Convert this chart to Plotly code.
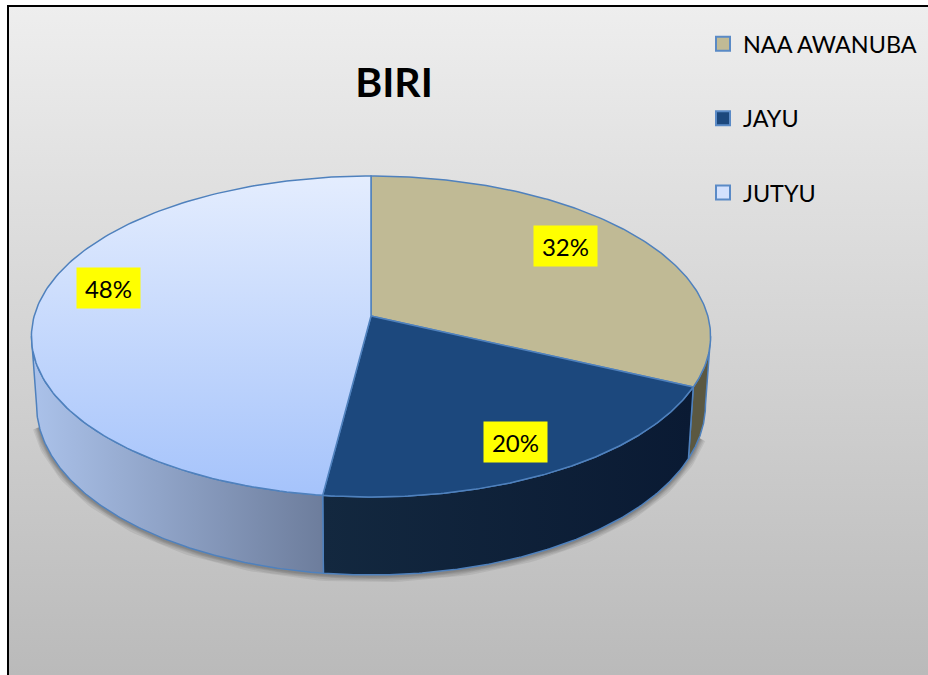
import numpy as np
import plotly.graph_objects as go

categories = ["NAA AWANUBA", "JAYU", "JUTYU"]
values = [32, 20, 48]
title_text = "BIRI"

W, H = 928, 675
CX, R, APEX_Y = 371.0, 336.8, 316.0
K, A = 0.1277, -117.5
EDGE = "#4f81bd"


def top(theta, r=1.0):
    s, c = np.sin(theta) * r, np.cos(theta) * r
    d = 1 + K * c
    return CX + R * s / d, (A * c + APEX_Y) / d


def bottom(theta):
    x, y = top(theta)
    c = np.cos(theta)
    return CX + (x - CX) * 0.985, y + 67 - 11 * c


def arc(a, b, n=160):
    return np.linspace(a, b, n)


fractions = np.array(values) / sum(values)
edges = np.concatenate([[0], np.cumsum(fractions)]) * 2 * np.pi
fig = go.Figure()

# background panel
fig.add_trace(go.Scatter(
    x=[8, W, W, 8, 8], y=[6, 6, H, H, 6], mode="lines", line=dict(width=0), fill="toself",
    fillgradient=dict(type="vertical", start=6, stop=H,
                      colorscale=[[0, "#eeeeee"], [1, "#bababa"]]),
    hoverinfo="skip", showlegend=False))
fig.add_trace(go.Scatter(x=[8, 8, W], y=[H, 6, 6], mode="lines",
                         line=dict(color="#000000", width=2), hoverinfo="skip", showlegend=False))

# soft shadow under the drum
t = arc(np.pi * 0.6, np.pi * 1.42)
bx, by = bottom(t)
for w in (13, 10, 7, 5, 3):
    fig.add_trace(go.Scatter(x=bx, y=by + 1, mode="lines",
                             line=dict(color="rgba(0,0,0,0.07)", width=w),
                             hoverinfo="skip", showlegend=False))

# walls
wall_styles = [
    ["#5b5841", "#5b5841"],
    ["#13283f", "#0a1a33"],
    ["#abc2ea", "#6d7d9c"],
]
limits = [(np.pi * 0.54, edges[1]), (edges[1], edges[2]), (edges[2], np.pi * 1.46)]
for (a, b), st in zip(limits, wall_styles):
    t = arc(a, b)
    tx, ty = top(t)
    bx, by = bottom(t)
    fig.add_trace(go.Scatter(
        x=np.r_[tx, bx[::-1], tx[0]], y=np.r_[ty, by[::-1], ty[0]],
        mode="lines", line=dict(color=EDGE, width=1.5), fill="toself",
        fillgradient=dict(type="horizontal", colorscale=[[0, st[0]], [1, st[1]]]),
        hoverinfo="skip", showlegend=False))

# top faces
faces = [
    dict(fillcolor="#c0ba95"),
    dict(fillcolor="#1c487d"),
    dict(fillgradient=dict(type="vertical", start=176, stop=497,
                           colorscale=[[0, "#e4edfe"], [1, "#a5c3fb"]])),
]
for i, name in enumerate(categories):
    t = arc(edges[i], edges[i + 1])
    x, y = top(t)
    fig.add_trace(go.Scatter(
        x=np.r_[CX, x, CX], y=np.r_[APEX_Y, y, APEX_Y], mode="lines", fill="toself",
        line=dict(color=EDGE, width=1.5), name=name, hoverinfo="skip", showlegend=False, **faces[i]))

# legend entries
swatches = ["#c0ba95", "#1c487d", "#d3e1fd"]
for i, name in enumerate(categories):
    fig.add_trace(go.Scatter(
        x=[None], y=[None], mode="markers", name=name, legendgroup=name,
        marker=dict(symbol="square", size=14, color=swatches[i], line=dict(color="#5a8ac6", width=2))))

# value labels
label_pos = [(565.5, 246), (515.5, 442), (108, 288)]
annotations = [dict(
    x=p[0], y=p[1], xref="x", yref="y", text=f"{v}%", showarrow=False,
    bgcolor="#ffff00", width=63, height=40, borderpad=0,
    font=dict(family="Lato", size=24, color="#000000")) for p, v in zip(label_pos, values)]

fig.update_layout(
    width=W, height=H, margin=dict(l=0, r=0, t=0, b=0),
    paper_bgcolor="#ffffff", plot_bgcolor="#ffffff",
    xaxis=dict(range=[0, W], visible=False, fixedrange=True),
    yaxis=dict(range=[H, 0], visible=False, fixedrange=True),
    title=dict(text=f"<b>{title_text}</b>", x=394 / W, y=1 - 83 / H, xanchor="center", yanchor="middle",
               font=dict(family="Lato", size=41, color="#000000")),
    annotations=annotations,
    legend=dict(x=703 / W, y=1 - 22 / H, xanchor="left", yanchor="top", bgcolor="rgba(0,0,0,0)",
                tracegroupgap=41, font=dict(family="Lato", size=23.4, color="#000000")),
)
fig.write_html("out.html", config=dict(displayModeBar=False),
               post_script="document.body.style.margin='0';document.documentElement.style.overflow='hidden';")
